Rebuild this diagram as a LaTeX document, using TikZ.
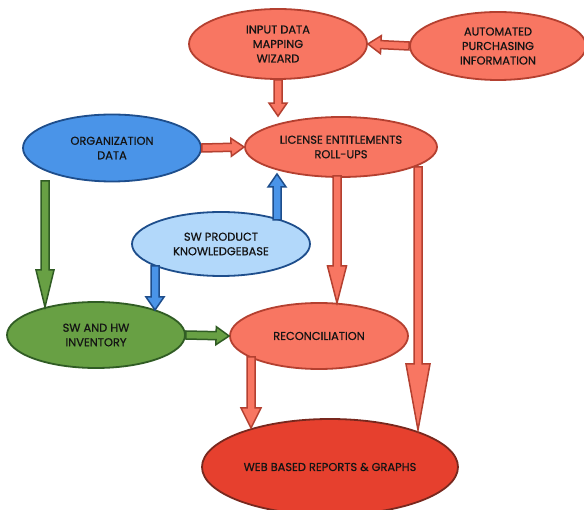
\documentclass[tikz,border=0pt]{standalone}
\usepackage{fontspec}
\setmainfont{Poppins}[FakeBold=0.6]
\usetikzlibrary{calc,shapes.geometric}
\definecolor{salfill}{RGB}{248,118,98}
\definecolor{saldraw}{RGB}{180,64,48}
\definecolor{bluefill}{RGB}{74,148,232}
\definecolor{bluedraw}{RGB}{30,78,140}
\definecolor{lbluefill}{RGB}{178,216,250}
\definecolor{greenfill}{RGB}{104,160,68}
\definecolor{greendraw}{RGB}{48,92,36}
\definecolor{redfill}{RGB}{230,64,46}
\definecolor{reddraw}{RGB}{120,40,30}
\definecolor{txt}{RGB}{20,20,20}
\newcommand\barr[6]{%
  \coordinate (ba-a) at #2; \coordinate (ba-b) at #3;
  \coordinate (ba-c) at ($(ba-b)!#6!(ba-a)$);
  \filldraw[#1] ($(ba-a)!#4!90:(ba-b)$) -- ($(ba-c)!#4!90:(ba-b)$) -- ($(ba-c)!#5!90:(ba-b)$) -- (ba-b) -- ($(ba-c)!#5!-90:(ba-b)$) -- ($(ba-c)!#4!-90:(ba-b)$) -- ($(ba-a)!#4!-90:(ba-b)$) -- cycle;
}
\tikzset{
  ell/.style={ellipse, draw, line width=1.8pt, inner sep=0pt, align=center, text=txt,
    font=\fontsize{11.4}{14.5}\selectfont},
  salnode/.style={ell, fill=salfill, draw=saldraw},
  bluenode/.style={ell, fill=bluefill, draw=bluedraw},
  lbluenode/.style={ell, fill=lbluefill, draw=bluedraw},
  greennode/.style={ell, fill=greenfill, draw=greendraw},
  rednode/.style={ell, fill=redfill, draw=reddraw},
  salarr/.style={fill=salfill, draw=saldraw, line width=1.5pt, line join=miter},
  bluearr/.style={fill=bluefill, draw=bluedraw, line width=1.5pt, line join=miter},
  greenarr/.style={fill=greenfill, draw=greendraw, line width=1.5pt, line join=miter},
}
\begin{document}
\begin{tikzpicture}[x=1pt,y=-1pt]
\useasboundingbox[fill=white] (0,0) rectangle (584,510);
\node[salnode, minimum width=178pt, minimum height=70pt] (idmw) at (278,44) {INPUT DATA\\MAPPING\\WIZARD};
\node[salnode, minimum width=176pt, minimum height=68pt] (api) at (498,46) {AUTOMATED\\PURCHASING\\INFORMATION};
\node[bluenode, minimum width=178pt, minimum height=67pt] (org) at (112,148) {ORGANIZATION\\DATA};
\node[salnode, minimum width=192pt, minimum height=60pt] (lic) at (341,147) {LICENSE ENTITLEMENTS\\ROLL-UPS};
\node[lbluenode, minimum width=178pt, minimum height=64pt] (kb) at (221,244) {SW PRODUCT\\KNOWLEDGEBASE};
\node[greennode, minimum width=178pt, minimum height=66pt] (inv) at (96,335) {SW AND HW\\INVENTORY};
\node[salnode, minimum width=178pt, minimum height=66pt] (rec) at (319,336) {RECONCILIATION};
\node[rednode, minimum width=256pt, minimum height=96pt] (web) at (330,467) {WEB BASED REPORTS \& GRAPHS};

\barr{salarr}{(api.west)}{(idmw.east)}{4pt}{9pt}{13pt}
\barr{salarr}{(idmw.south)}{(idmw.south |- lic.north)}{4pt}{9pt}{13pt}
\barr{salarr}{(org.east)}{(lic.west)}{4pt}{9pt}{13pt}
\barr{bluearr}{(277,220)}{(277,174)}{4pt}{9pt}{13pt}
\barr{bluearr}{(155,266)}{(155,310)}{4pt}{9pt}{13pt}
\barr{greenarr}{(45,181)}{(45,307)}{4pt}{9pt}{37pt}
\barr{greenarr}{(inv.east)}{(rec.west)}{4pt}{9pt}{13pt}
\barr{salarr}{(337,176)}{(337,303)}{4pt}{9.5pt}{37pt}
\barr{salarr}{(418,167)}{(418,430)}{4pt}{12pt}{66pt}
\barr{salarr}{(251,357)}{(251,428)}{4pt}{10pt}{20pt}
\end{tikzpicture}
\end{document}
